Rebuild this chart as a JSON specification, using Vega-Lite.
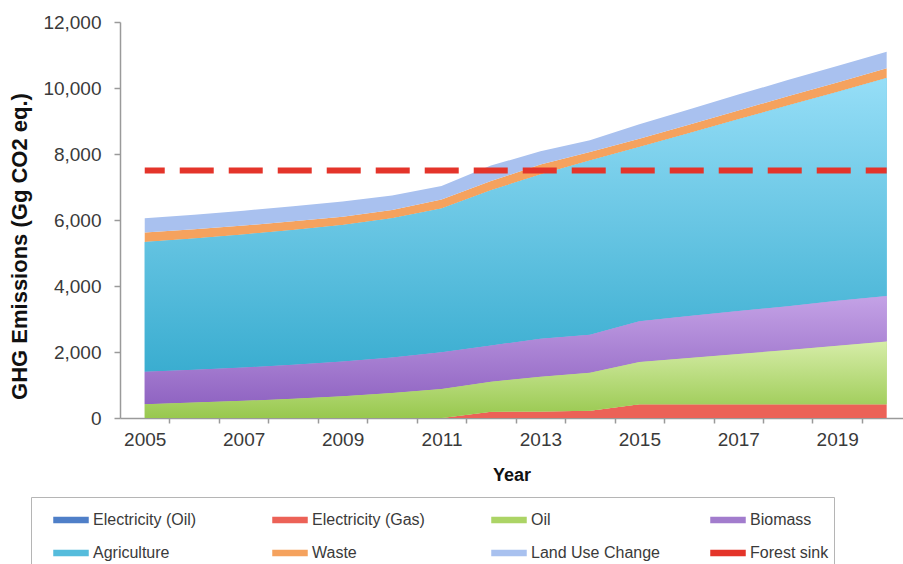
{
  "$schema": "https://vega.github.io/schema/vega-lite/v6.json",
  "autosize": {"type": "none"},
  "padding": {"left": 120, "top": 22, "right": 0, "bottom": 146},
  "width": 783,
  "height": 396,
  "background": "white",
  "config": {"font": "Liberation Sans", "view": {"stroke": null}},
  "datasets": {
    "emissions": [
      {"year": 2005, "Electricity (Oil)": 0, "Electricity (Gas)": 0, "Oil": 420, "Biomass": 980, "Agriculture": 3930, "Waste": 290, "Land Use Change": 430},
      {"year": 2006, "Electricity (Oil)": 0, "Electricity (Gas)": 0, "Oil": 470, "Biomass": 990, "Agriculture": 3980, "Waste": 280, "Land Use Change": 440},
      {"year": 2007, "Electricity (Oil)": 0, "Electricity (Gas)": 0, "Oil": 520, "Biomass": 1010, "Agriculture": 4030, "Waste": 270, "Land Use Change": 450},
      {"year": 2008, "Electricity (Oil)": 0, "Electricity (Gas)": 0, "Oil": 580, "Biomass": 1030, "Agriculture": 4090, "Waste": 260, "Land Use Change": 460},
      {"year": 2009, "Electricity (Oil)": 0, "Electricity (Gas)": 0, "Oil": 660, "Biomass": 1050, "Agriculture": 4140, "Waste": 250, "Land Use Change": 460},
      {"year": 2010, "Electricity (Oil)": 0, "Electricity (Gas)": 0, "Oil": 760, "Biomass": 1070, "Agriculture": 4220, "Waste": 250, "Land Use Change": 440},
      {"year": 2011, "Electricity (Oil)": 0, "Electricity (Gas)": 0, "Oil": 880, "Biomass": 1110, "Agriculture": 4360, "Waste": 270, "Land Use Change": 410},
      {"year": 2012, "Electricity (Oil)": 0, "Electricity (Gas)": 190, "Oil": 910, "Biomass": 1100, "Agriculture": 4700, "Waste": 280, "Land Use Change": 470},
      {"year": 2013, "Electricity (Oil)": 0, "Electricity (Gas)": 200, "Oil": 1050, "Biomass": 1150, "Agriculture": 4980, "Waste": 300, "Land Use Change": 400},
      {"year": 2014, "Electricity (Oil)": 0, "Electricity (Gas)": 220, "Oil": 1150, "Biomass": 1150, "Agriculture": 5280, "Waste": 260, "Land Use Change": 360},
      {"year": 2015, "Electricity (Oil)": 0, "Electricity (Gas)": 420, "Oil": 1280, "Biomass": 1230, "Agriculture": 5280, "Waste": 250, "Land Use Change": 440},
      {"year": 2016, "Electricity (Oil)": 0, "Electricity (Gas)": 420, "Oil": 1400, "Biomass": 1270, "Agriculture": 5540, "Waste": 260, "Land Use Change": 460},
      {"year": 2017, "Electricity (Oil)": 0, "Electricity (Gas)": 420, "Oil": 1520, "Biomass": 1300, "Agriculture": 5810, "Waste": 270, "Land Use Change": 480},
      {"year": 2018, "Electricity (Oil)": 0, "Electricity (Gas)": 420, "Oil": 1640, "Biomass": 1330, "Agriculture": 6080, "Waste": 280, "Land Use Change": 490},
      {"year": 2019, "Electricity (Oil)": 0, "Electricity (Gas)": 420, "Oil": 1770, "Biomass": 1360, "Agriculture": 6330, "Waste": 290, "Land Use Change": 500},
      {"year": 2020, "Electricity (Oil)": 0, "Electricity (Gas)": 420, "Oil": 1900, "Biomass": 1380, "Agriculture": 6600, "Waste": 300, "Land Use Change": 500}
    ],
    "forest": [
      {"year": 2005, "value": 7500},
      {"year": 2020, "value": 7500}
    ]
  },
  "resolve": {"axis": {"x": "independent", "y": "independent"}},
  "layer": [
    {
      "data": {"name": "emissions"},
      "transform": [
        {"fold": ["Electricity (Oil)", "Electricity (Gas)", "Oil", "Biomass", "Agriculture", "Waste", "Land Use Change"], "as": ["series", "value"]},
        {"calculate": "indexof(['Electricity (Oil)', 'Electricity (Gas)', 'Oil', 'Biomass', 'Agriculture', 'Waste', 'Land Use Change'], datum.series)", "as": "rank"}
      ],
      "mark": {"type": "area", "opacity": 1},
      "encoding": {
        "x": {
          "field": "year",
          "type": "quantitative",
          "scale": {"domain": [2004.5, 2020.33], "nice": false, "zero": false},
          "axis": {
            "values": [2005, 2007, 2009, 2011, 2013, 2015, 2017, 2019],
            "format": "d",
            "ticks": false,
            "labelOverlap": false,
            "labelFlush": false,
            "grid": false,
            "domainColor": "#9a9a9a",
            "domainWidth": 1.5,
            "labelFontSize": 19,
            "labelColor": "#3a3a3a",
            "labelPadding": 12,
            "title": "Year",
            "titleFontSize": 18,
            "titleFontWeight": "bold",
            "titleColor": "#111",
            "titlePadding": 17
          }
        },
        "y": {
          "field": "value",
          "type": "quantitative",
          "stack": "zero",
          "scale": {"domain": [0, 12000], "nice": false},
          "axis": {
            "values": [0, 2000, 4000, 6000, 8000, 10000, 12000],
            "format": ",.0f",
            "grid": false,
            "domainColor": "#9a9a9a",
            "domainWidth": 1.5,
            "tickColor": "#9a9a9a",
            "tickWidth": 1.5,
            "tickSize": 6,
            "labelFontSize": 19,
            "labelColor": "#3a3a3a",
            "labelPadding": 13,
            "title": "GHG Emissions (Gg CO2 eq.)",
            "titleFontSize": 22,
            "titleFontWeight": "bold",
            "titleColor": "#111",
            "titleX": -89,
            "titleY": 224,
            "titleBaseline": "bottom"
          }
        },
        "order": {"field": "rank", "type": "quantitative", "sort": "ascending"},
        "color": {
          "field": "series",
          "type": "nominal",
          "scale": {
            "domain": ["Electricity (Oil)", "Electricity (Gas)", "Oil", "Biomass", "Agriculture", "Waste", "Land Use Change", "Forest sink"],
            "range": ["#4f7fc8", "#ec6257", "#acd466", "#a27ccd", "#56bcdc", "#f5a25e", "#a9c1ef", "#e4342a"]
          },
          "legend": {
            "orient": "none",
            "legendX": -89,
            "legendY": 475,
            "direction": "horizontal",
            "title": null,
            "columns": 4,
            "gridAlign": "all",
            "columnPadding": 33,
            "rowPadding": 7,
            "padding": 5,
            "symbolOffset": 17,
            "strokeColor": "#b5b5b5",
            "fillColor": "white",
            "symbolSize": 1156,
            "symbolType": "M-1,-0.15H1V0.15H-1Z",
            "labelFontSize": 16,
            "labelColor": "#3a3a3a",
            "labelOffset": 4,
            "labelLimit": 200,
            "encode": {
              "symbols": {
                "update": {
                  "fill": {"scale": "color", "field": "value"},
                  "strokeWidth": {"value": 0},
                  "opacity": {"value": 1}
                }
              }
            }
          }
        }
      }
    },
    {
      "data": {"name": "emissions"},
      "transform": [
        {"fold": ["Electricity (Oil)", "Electricity (Gas)", "Oil", "Biomass", "Agriculture", "Waste", "Land Use Change"], "as": ["series", "value"]},
        {"calculate": "indexof(['Electricity (Oil)', 'Electricity (Gas)', 'Oil', 'Biomass', 'Agriculture', 'Waste', 'Land Use Change'], datum.series)", "as": "rank"},
        {"stack": "value", "groupby": ["year"], "sort": [{"field": "rank", "order": "ascending"}], "as": ["v0", "v1"]},
        {"filter": "datum.series === 'Agriculture'"}
      ],
      "mark": {
        "type": "area",
        "color": {"gradient": "linear", "x1": 0, "y1": 1, "x2": 0, "y2": 0, "stops": [{"offset": 0, "color": "#3aadd0"}, {"offset": 1, "color": "#96def7"}]}
      },
      "encoding": {
        "x": {"field": "year", "type": "quantitative", "axis": null},
        "y": {"field": "v1", "type": "quantitative", "axis": null},
        "y2": {"field": "v0"}
      }
    },
    {
      "data": {"name": "emissions"},
      "transform": [
        {"fold": ["Electricity (Oil)", "Electricity (Gas)", "Oil", "Biomass", "Agriculture", "Waste", "Land Use Change"], "as": ["series", "value"]},
        {"calculate": "indexof(['Electricity (Oil)', 'Electricity (Gas)', 'Oil', 'Biomass', 'Agriculture', 'Waste', 'Land Use Change'], datum.series)", "as": "rank"},
        {"stack": "value", "groupby": ["year"], "sort": [{"field": "rank", "order": "ascending"}], "as": ["v0", "v1"]},
        {"filter": "datum.series === 'Biomass'"}
      ],
      "mark": {
        "type": "area",
        "color": {"gradient": "linear", "x1": 0, "y1": 1, "x2": 0, "y2": 0, "stops": [{"offset": 0, "color": "#9064c2"}, {"offset": 1, "color": "#c4a2e6"}]}
      },
      "encoding": {
        "x": {"field": "year", "type": "quantitative", "axis": null},
        "y": {"field": "v1", "type": "quantitative", "axis": null},
        "y2": {"field": "v0"}
      }
    },
    {
      "data": {"name": "emissions"},
      "transform": [
        {"fold": ["Electricity (Oil)", "Electricity (Gas)", "Oil", "Biomass", "Agriculture", "Waste", "Land Use Change"], "as": ["series", "value"]},
        {"calculate": "indexof(['Electricity (Oil)', 'Electricity (Gas)', 'Oil', 'Biomass', 'Agriculture', 'Waste', 'Land Use Change'], datum.series)", "as": "rank"},
        {"stack": "value", "groupby": ["year"], "sort": [{"field": "rank", "order": "ascending"}], "as": ["v0", "v1"]},
        {"filter": "datum.series === 'Oil'"}
      ],
      "mark": {
        "type": "area",
        "color": {"gradient": "linear", "x1": 0, "y1": 1, "x2": 0, "y2": 0, "stops": [{"offset": 0, "color": "#98c84e"}, {"offset": 1, "color": "#d6eda8"}]}
      },
      "encoding": {
        "x": {"field": "year", "type": "quantitative", "axis": null},
        "y": {"field": "v1", "type": "quantitative", "axis": null},
        "y2": {"field": "v0"}
      }
    },
    {
      "data": {"name": "forest"},
      "mark": {"type": "line", "strokeDash": [34, 15], "strokeDashOffset": 14, "strokeWidth": 6},
      "encoding": {
        "x": {
          "field": "year",
          "type": "quantitative",
          "axis": {
            "orient": "bottom",
            "values": [2005.5, 2006.5, 2007.5, 2008.5, 2009.5, 2010.5, 2011.5, 2012.5, 2013.5, 2014.5, 2015.5, 2016.5, 2017.5, 2018.5, 2019.5],
            "labels": false,
            "domain": false,
            "grid": false,
            "ticks": true,
            "tickColor": "#9a9a9a",
            "tickWidth": 1.5,
            "tickSize": 5,
            "title": null
          }
        },
        "y": {"field": "value", "type": "quantitative", "axis": null},
        "color": {"datum": "Forest sink"}
      }
    }
  ]
}
